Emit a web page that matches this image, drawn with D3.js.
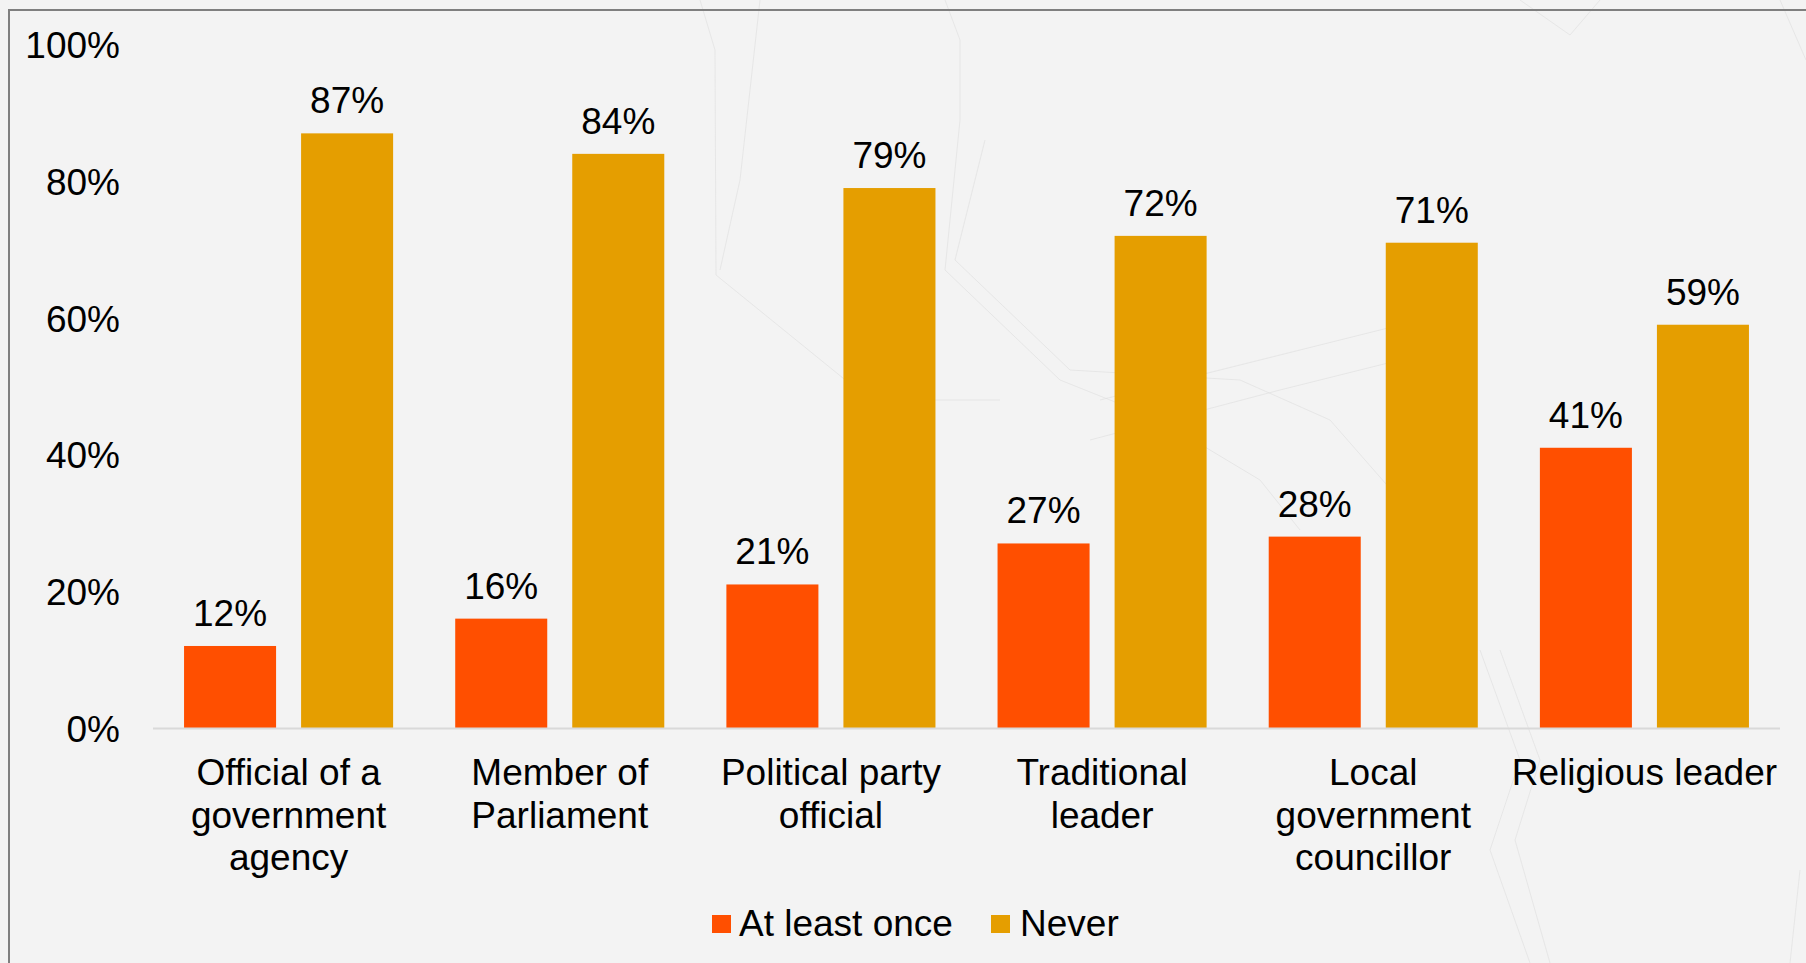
<!DOCTYPE html>
<html>
<head>
<meta charset="utf-8">
<script src="https://cdn.jsdelivr.net/npm/d3@7/dist/d3.min.js"></script>
<style>
  html, body { margin: 0; padding: 0; background: #f3f3f3; }
  svg { display: block; }
  text { font-family: "Liberation Sans", Arial, sans-serif; fill: #000; }
</style>
</head>
<body>
<svg id="chart" width="1806" height="963"></svg>
<script>
const categories = [
  ["Official of a", "government", "agency"],
  ["Member of", "Parliament"],
  ["Political party", "official"],
  ["Traditional", "leader"],
  ["Local", "government", "councillor"],
  ["Religious leader"]
];
const seriesNames = ["At least once", "Never"];
const atLeastOnce = [12, 16, 21, 27, 28, 41];
const never = [87, 84, 79, 72, 71, 59];
const yTicks = [0, 20, 40, 60, 80, 100];
const colors = ["#ff4f00", "#e59e00"];

const svg = d3.select("#chart");
const W = 1806, H = 963;

// background
svg.append("rect").attr("width", W).attr("height", H).attr("fill", "#f3f3f3");

// faint decorative lines
const deco = [
  [[700,0],[715,50],[716,275],[870,400],[1000,400]],
  [[760,0],[740,180],[720,270]],
  [[945,0],[960,40],[960,120],[945,270],[1060,380],[1160,420],[1260,480],[1300,530]],
  [[985,140],[955,260],[1070,370],[1240,380],[1330,420],[1400,500]],
  [[1100,400],[1300,350],[1420,320]],
  [[1090,440],[1280,390],[1440,350]],
  [[1520,0],[1570,35],[1600,0]],
  [[1780,0],[1806,60]],
  [[1480,650],[1520,760],[1490,850],[1530,963]],
  [[1500,650],[1540,760],[1515,840],[1550,963]],
  [[1800,870],[1790,963]]
];
svg.append("g").selectAll("path").data(deco).join("path")
  .attr("d", d3.line())
  .attr("fill", "none")
  .attr("stroke", "#dedede")
  .attr("stroke-width", 1)
  .attr("opacity", 0.6);

// frame
svg.append("rect")
  .attr("x", 9).attr("y", 10)
  .attr("width", W + 20).attr("height", H + 20)
  .attr("fill", "none")
  .attr("stroke", "#7f7f7f")
  .attr("stroke-width", 2);

const x0 = d3.scaleBand()
  .domain(d3.range(categories.length))
  .range([153, 1780])
  .paddingInner(0.229)
  .paddingOuter(0.1145);

const x1 = d3.scaleBand()
  .domain(d3.range(seriesNames.length))
  .range([0, x0.bandwidth()])
  .paddingInner(0.2137)
  .paddingOuter(0);

const y = d3.scaleLinear().domain([0, 100]).range([728, 44.5]);

const fontSize = 37;

// y axis labels
const yAxis = d3.axisLeft(y).tickValues(yTicks).tickFormat(d => d + "%").tickSize(0).tickPadding(0);
const gy = svg.append("g").attr("transform", "translate(120,0)").call(yAxis);
gy.select(".domain").remove();
gy.selectAll("text")
  .attr("font-size", fontSize)
  .attr("font-family", "Liberation Sans, Arial, sans-serif")
  .attr("fill", "#000")
  .attr("dy", "0.36em");

// bars
const data = categories.map((c, i) => [atLeastOnce[i], never[i]]);
const groups = svg.append("g").selectAll("g").data(data).join("g")
  .attr("transform", (d, i) => `translate(${x0(i)},0)`);

groups.selectAll("rect").data(d => d).join("rect")
  .attr("x", (d, j) => x1(j))
  .attr("width", x1.bandwidth())
  .attr("y", d => y(d))
  .attr("height", d => y(0) - y(d))
  .attr("fill", (d, j) => colors[j]);

groups.selectAll("text.val").data(d => d).join("text")
  .attr("class", "val")
  .attr("x", (d, j) => x1(j) + x1.bandwidth() / 2)
  .attr("y", d => y(d) - 20)
  .attr("text-anchor", "middle")
  .attr("font-size", fontSize)
  .text(d => d + "%");

// x axis line
svg.append("line")
  .attr("x1", 153).attr("x2", 1780)
  .attr("y1", y(0) + 0.5).attr("y2", y(0) + 0.5)
  .attr("stroke", "#d9d9d9")
  .attr("stroke-width", 2);

// category labels
const catG = svg.append("g").selectAll("text").data(categories).join("text")
  .attr("text-anchor", "middle")
  .attr("font-size", fontSize)
  .attr("transform", (d, i) => `translate(${x0(i) + x0.bandwidth() / 2},785)`);
catG.selectAll("tspan").data(d => d).join("tspan")
  .attr("x", 0)
  .attr("y", (d, k) => k * 42.5)
  .text(d => d);

// legend
const legendItems = [
  { name: seriesNames[0], color: colors[0], sx: 712, tx: 739 },
  { name: seriesNames[1], color: colors[1], sx: 991, tx: 1020 }
];
const lg = svg.append("g").selectAll("g").data(legendItems).join("g");
lg.append("rect")
  .attr("x", d => d.sx).attr("y", 915)
  .attr("width", 19).attr("height", 18)
  .attr("fill", d => d.color);
lg.append("text")
  .attr("x", d => d.tx).attr("y", 936)
  .attr("font-size", fontSize)
  .text(d => d.name);
</script>
</body>
</html>
